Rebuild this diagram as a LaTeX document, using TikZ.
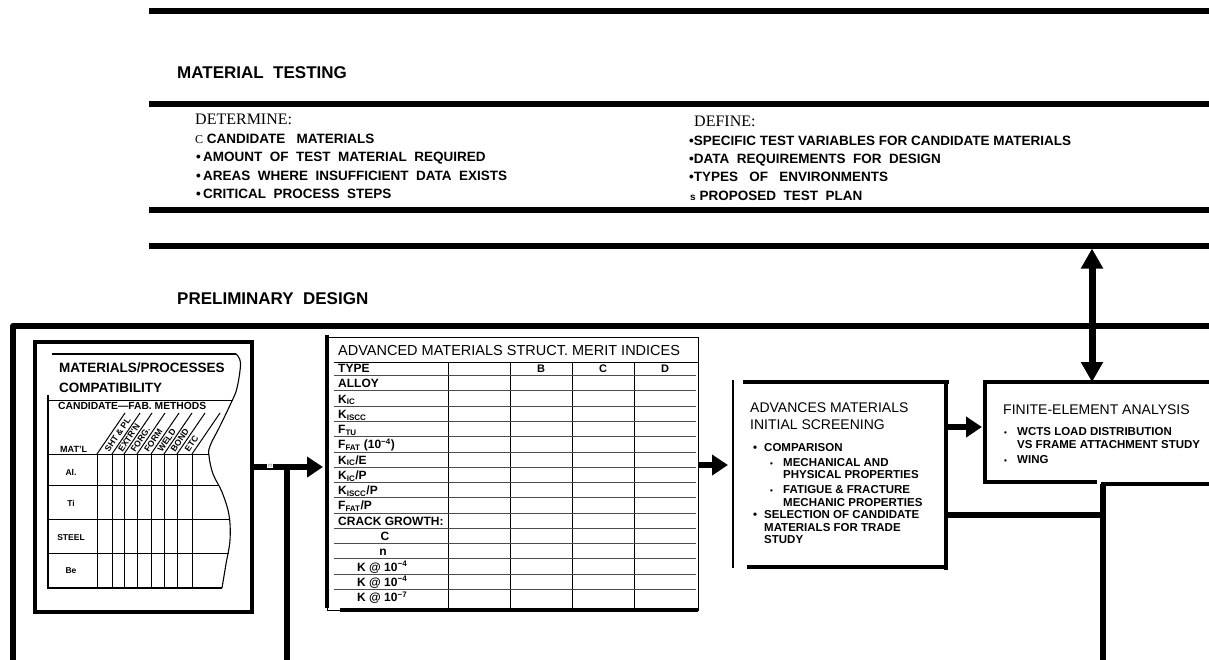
\documentclass[tikz,border=0pt]{standalone}
\usepackage{fontspec}
\setmainfont{Liberation Sans}
\newfontfamily\tms{Liberation Serif}
\usetikzlibrary{arrows.meta}
\newcommand\myfs[1]{\fontsize{#1}{#1}\selectfont}
\begin{document}
\begin{tikzpicture}[x=1pt,y=-1pt,
  bar/.style={line width=6pt},
  conn/.style={line width=6pt},
  arr/.style={line width=6pt,-{Triangle[length=16pt,width=20pt]}},
  bigarr/.style={line width=7pt,-{Triangle[length=20pt,width=21pt]}},
  boxline/.style={line width=4.5pt},
  thinbox/.style={line width=1.1pt},
  rowline/.style={line width=0.8pt,black!70},
  lbl/.style={anchor=base west,inner sep=0pt},
  hd/.style={lbl,font=\bfseries\myfs{17}},
  li/.style={lbl,font=\bfseries\myfs{13.5}},
  sti/.style={lbl,font=\bfseries\myfs{11.5}},
  mt/.style={lbl,font=\bfseries\myfs{12}},
  cl/.style={anchor=base,inner sep=0pt,font=\bfseries\myfs{8.5}},
  rl/.style={anchor=west,inner sep=0pt,rotate=55.7,font=\bfseries\myfs{8.6}},
]
\useasboundingbox (0,0) rectangle (1209,659);

% ---------- horizontal bars ----------
\draw[bar] (149,11) -- (1215,11);
\node[hd] (mtest) at (177,78) {MATERIAL\ \ TESTING};
\draw[bar] (149,103.5) -- (1215,103.5);
\draw[bar] (149,210) -- (1215,210);
\draw[bar] (149,245.5) -- (1215,245.5);
\node[hd] (pdes) at (177,304) {PRELIMINARY\ \ DESIGN};
\draw[bar,line join=round] (13,665) -- (13,326) -- (1215,326);

% ---------- material testing lists ----------
\node[lbl,font=\tms\myfs{16}] (det) at (195,124) {DETERMINE:};
\node[li] (d1) at (195,143) {{\tms\mdseries\myfs{12}C} CANDIDATE\ \ \ MATERIALS};
\node[li] (d2) at (196,161.5) {\textbullet\,AMOUNT\ \ OF\ \ TEST\ \ MATERIAL\ \ REQUIRED};
\node[li] (d3) at (196,180) {\textbullet\,AREAS\ \ WHERE\ \ INSUFFICIENT\ \ DATA\ \ EXISTS};
\node[li] (d4) at (196,198) {\textbullet\,CRITICAL\ \ PROCESS\ \ STEPS};

\node[lbl,font=\tms\myfs{16}] (def) at (694,126) {DEFINE:};
\node[li] (f1) at (689,145) {\textbullet SPECIFIC TEST VARIABLES FOR CANDIDATE MATERIALS};
\node[li] (f2) at (689,163) {\textbullet DATA\ \ REQUIREMENTS\ \ FOR\ \ DESIGN};
\node[li] (f3) at (689,181.5) {\textbullet TYPES\ \ \ OF\ \ \ ENVIRONMENTS};
\node[li] (f4) at (690,200) {{\myfs{10}s} PROPOSED\ \ TEST\ \ PLAN};

% ---------- arrows between bars ----------
\coordinate (ua) at (1092,323);
\coordinate (ub) at (1092,248.5);
\draw[bigarr] (ua) -- (ub);

% ---------- compatibility chart ----------
\node[draw,line width=3.5pt,minimum width=217pt,minimum height=270pt,inner sep=0pt,anchor=north west] (compat) at (33,340) {};
\draw[thinbox] (52,354) -- (236,354);
\draw[thinbox] plot[smooth,tension=0.6] coordinates {(236,354) (240.5,363) (237,388) (231,403) (220,426) (210,446) (209,456) (213,474) (222,492) (229,515) (230,540) (226,564) (222,588)};
\draw[thinbox] (222,588) -- (48,588) -- (48,395);
\draw[line width=1pt] (48,400) -- (233,400);
\draw[line width=1pt] (48,454) -- (209,454);
\draw[line width=1pt] (48,485) -- (219,485);
\draw[line width=1pt] (48,519) -- (229.5,519);
\draw[line width=1pt] (48,553) -- (229,553);
\foreach \x in {97,112,124,137,151,164,177,192} {
  \draw[line width=1pt] (\x,454) -- (\x,588);
  \draw[line width=1pt] (\x,454) -- ++(28,-41);
}
\node[lbl,font=\bfseries\myfs{13.5}] (ct1) at (59,372) {MATERIALS/PROCESSES};
\node[lbl,font=\bfseries\myfs{13.5}] (ct2) at (59,392) {COMPATIBILITY};
\node[lbl,font=\bfseries\myfs{10.3}] (ct3) at (58,409) {CANDIDATE—FAB.\ METHODS};
\node[lbl,font=\bfseries\myfs{9}] (ct4) at (60,452) {MAT'L};
\node[cl] (cAl) at (71,475.5) {Al.};
\node[cl] (cTi) at (71,506.5) {Ti};
\node[cl] (cSt) at (71,540.5) {STEEL};
\node[cl] (cBe) at (71,573.5) {Be};
\node[rl] (h1) at (106.5,451) {SHT \& PL};
\node[rl] (h2) at (120,451) {EXTR'N};
\node[rl] (h3) at (132.5,451) {FORG.};
\node[rl] (h4) at (146,451) {FORM};
\node[rl] (h5) at (159.5,451) {WELD};
\node[rl] (h6) at (172.5,451) {BOND};
\node[rl] (h7) at (186.5,451) {ETC};

% ---------- merit indices table ----------
\node[draw,line width=1pt,minimum width=371pt,minimum height=273pt,inner sep=0pt,anchor=north west] (mat) at (327,337) {};
\draw[boxline] (327,335) -- (327,608);
\draw[boxline] (340,610) -- (698,610);
\node[lbl,font=\myfs{14.5}] (mtitle) at (338,355.5) {ADVANCED MATERIALS STRUCT. MERIT INDICES};
\draw[line width=1pt] (334,362) -- (698,362);
\foreach \x in {448,510,572,634} \draw[line width=1pt] (\x,362) -- (\x,608);
\foreach \i in {0,...,14} \draw[rowline] (334,{375.6+15.27*\i}) -- (696,{375.6+15.27*\i});
\node[anchor=base,inner sep=0pt,font=\bfseries\myfs{11}] (cB) at (541,372) {B};
\node[anchor=base,inner sep=0pt,font=\bfseries\myfs{11}] (cC) at (603,372) {C};
\node[anchor=base,inner sep=0pt,font=\bfseries\myfs{11}] (cD) at (665,372) {D};
\node[mt] (r0) at (338,372.5) {TYPE};
\node[mt] (r1) at (338,387.8) {ALLOY};
\node[mt] (r2) at (338,403.0) {K\textsubscript{IC}};
\node[mt] (r3) at (338,418.3) {K\textsubscript{ISCC}};
\node[mt] (r4) at (338,433.6) {F\textsubscript{TU}};
\node[mt] (r5) at (338,448.9) {F\textsubscript{FAT} (10\textsuperscript{−4})};
\node[mt] (r6) at (338,464.1) {K\textsubscript{IC}/E};
\node[mt] (r7) at (338,479.4) {K\textsubscript{IC}/P};
\node[mt] (r8) at (338,494.7) {K\textsubscript{ISCC}/P};
\node[mt] (r9) at (338,509.9) {F\textsubscript{FAT}/P};
\node[mt] (r10) at (338,525.2) {CRACK GROWTH:};
\node[mt,anchor=base] (r11) at (385,540.5) {C};
\node[mt,anchor=base] (r12) at (383,555.7) {n};
\node[mt] (r13) at (357,571.0) {K @ 10\textsuperscript{−4}};
\node[mt] (r14) at (357,586.3) {K @ 10\textsuperscript{−4}};
\node[mt] (r15) at (357,601.6) {K @ 10\textsuperscript{−7}};

% ---------- initial screening ----------
\node[minimum width=213pt,minimum height=186pt,inner sep=0pt,anchor=north west] (scr) at (733,382) {};
\draw[line width=1.6pt] (733,380) -- (733,568);
\draw[boxline] (743,382) -- (948.5,382);
\draw[boxline] (946,382) -- (946,570);
\draw[boxline] (747,567) -- (948,567);
\node[lbl,font=\myfs{14}] (s1) at (750,412) {ADVANCES MATERIALS};
\node[lbl,font=\myfs{14}] (s2) at (750,429) {INITIAL SCREENING};
\node[sti] (s3) at (753,451) {\makebox[11pt][l]{\textbullet}COMPARISON};
\node[sti] (s4) at (770,466) {\makebox[13pt][l]{\myfs{8}\textbullet}MECHANICAL AND};
\node[sti] (s5) at (783,478) {PHYSICAL PROPERTIES};
\node[sti] (s6) at (770,493) {\makebox[13pt][l]{\myfs{8}\textbullet}FATIGUE \& FRACTURE};
\node[sti] (s7) at (783,506) {MECHANIC PROPERTIES};
\node[sti] (s8) at (753,518) {\makebox[11pt][l]{\textbullet}SELECTION OF CANDIDATE};
\node[sti] (s9) at (764,531) {MATERIALS FOR TRADE};
\node[sti] (s10) at (764,543) {STUDY};

% ---------- finite element ----------
\node[minimum width=240pt,minimum height=101pt,inner sep=0pt,anchor=north west] (fe) at (983,382) {};
\draw[boxline] (983,382) -- (1215,382);
\draw[boxline] (985,380) -- (985,484);
\draw[boxline] (983,482) -- (1097,482);
\draw[boxline] (1101,484) -- (1215,484);
\node[lbl,font=\myfs{14}] (fe1) at (1003,414) {FINITE-ELEMENT ANALYSIS};
\node[sti] (fe2) at (1004,435) {\makebox[13pt][l]{\myfs{8}\textbullet}WCTS LOAD DISTRIBUTION};
\node[sti] (fe3) at (1017,448) {VS FRAME ATTACHMENT STUDY};
\node[sti] (fe4) at (1004,463) {\makebox[13pt][l]{\myfs{8}\textbullet}WING};

% ---------- connectors ----------
\coordinate (j1) at (287,467);
\coordinate (j1b) at (287,665);
\draw[arr,shorten >=4pt] (compat.east |- j1) -- (mat.west |- j1);
\draw[conn] (j1) -- (j1b);
\node[inner sep=0.6pt,fill=white,text=black!50,font=\myfs{6}] (mm) at (270,466) {m};

\coordinate (y465) at (0,465);
\draw[arr,shorten >=5pt] (mat.east |- y465) -- (scr.west |- y465);

\coordinate (y427) at (0,427);
\draw[arr,shorten >=1pt] (scr.east |- y427) -- (fe.west |- y427);

\coordinate (j2) at (1103,484);
\coordinate (j2b) at (1103,665);
\coordinate (y515) at (0,515);
\draw[conn] (scr.east |- y515) -- (j2 |- y515);
\draw[conn] (j2) -- (j2b);

\coordinate (da) at (1092,329);
\draw[bigarr] (da) -- (fe.north -| da);
\end{tikzpicture}
\end{document}
